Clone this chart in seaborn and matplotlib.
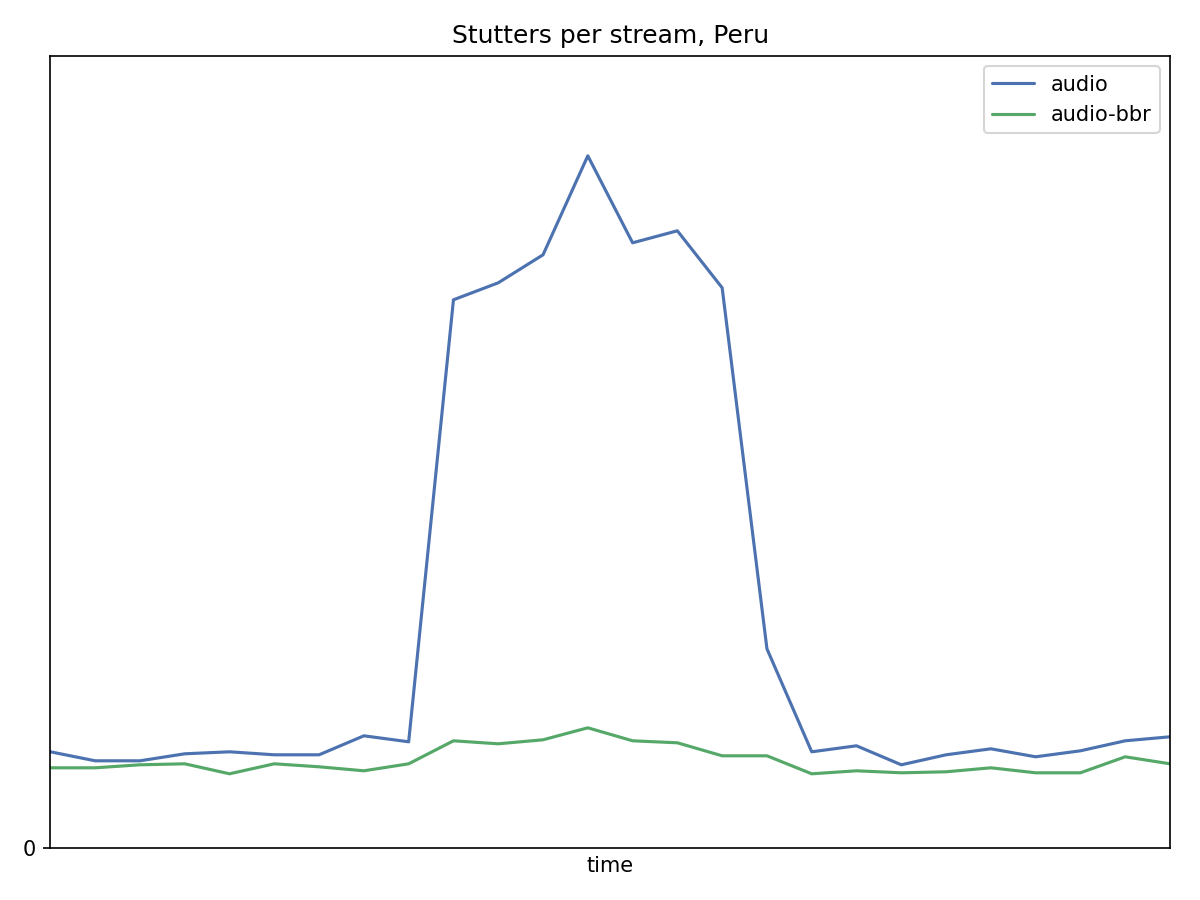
import numpy as np
import pandas as pd
import matplotlib
matplotlib.use("Agg")
import matplotlib.pyplot as plt
import seaborn as sns

# Values (arbitrary units, no scale shown except 0)
audio = [0.96, 0.87, 0.87, 0.94, 0.96, 0.93, 0.93, 1.12, 1.06, 5.48, 5.65, 5.93, 6.92,
         6.05, 6.17, 5.60, 1.99, 0.96, 1.02, 0.83, 0.93, 0.99, 0.91, 0.97, 1.07, 1.11]
audio_bbr = [0.80, 0.80, 0.83, 0.84, 0.74, 0.84, 0.81, 0.77, 0.84, 1.07, 1.04, 1.08, 1.20,
             1.07, 1.05, 0.92, 0.92, 0.74, 0.77, 0.75, 0.76, 0.80, 0.75, 0.75, 0.91, 0.84]
time = list(range(len(audio)))

df = pd.DataFrame({"time": time, "audio": audio, "audio-bbr": audio_bbr})
df_long = df.melt(id_vars="time", var_name="stream", value_name="stutters")

sns.set_style("ticks", {
    "axes.edgecolor": "black",
    "text.color": "black",
    "axes.labelcolor": "black",
    "xtick.color": "black",
    "ytick.color": "black",
})
palette = sns.color_palette("deep")

fig, ax = plt.subplots(figsize=(8, 6), dpi=150)
sns.lineplot(data=df_long, x="time", y="stutters", hue="stream",
             palette=[palette[0], palette[2]], linewidth=1.5, ax=ax)

ax.set_xlim(time[0], time[-1])
ax.set_ylim(0, 7.92)
ax.set_xticks([])
ax.set_yticks([0])
ax.set_xlabel("time")
ax.set_ylabel("")
ax.set_title("Stutters per stream, Peru", fontsize=12)
ax.legend(title=None, loc="upper right")

fig.subplots_adjust(left=0.042, right=0.975, top=0.938, bottom=0.058)
fig.savefig("out.png")
